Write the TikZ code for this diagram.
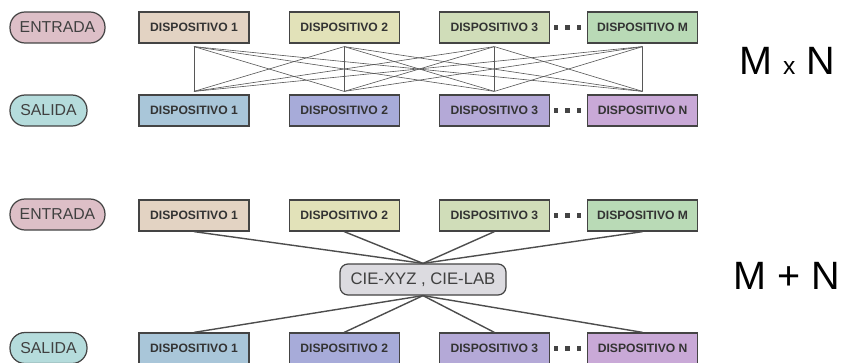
\documentclass[tikz,border=0pt]{standalone}
\usepackage{fontspec}
\setmainfont{Liberation Sans}
\usetikzlibrary{positioning,calc}
\definecolor{edge}{HTML}{444444}
\definecolor{inpill}{HTML}{DDBFC7}
\definecolor{outpill}{HTML}{B5DCDC}
\definecolor{inA}{HTML}{E3D3C3}
\definecolor{inB}{HTML}{E2E2B9}
\definecolor{inC}{HTML}{D0DDB9}
\definecolor{inD}{HTML}{B9DAB6}
\definecolor{outA}{HTML}{A9C6D9}
\definecolor{outB}{HTML}{A7ABD9}
\definecolor{outC}{HTML}{B4A9D7}
\definecolor{outD}{HTML}{C9A9D7}
\definecolor{hubgray}{HTML}{DCDBE0}
\newcommand{\disp}[1]{DISPOSITIVO #1}
\newcommand{\smallx}{{\fontsize{14}{14}\selectfont x}}

\begin{document}
\begin{tikzpicture}[x=0.02cm,y=-0.02cm,node distance=0.78cm and 0.78cm,
    pill/.style={draw=edge,line width=0.7pt,rounded corners=0.3cm,minimum height=0.62cm,inner sep=0pt,font=\fontsize{9}{10}\selectfont,text=black!75},
    dev/.style={draw=edge,line width=0.7pt,minimum width=2.2cm,minimum height=0.62cm,inner sep=0pt,font=\bfseries\fontsize{6.9}{7.5}\selectfont,text=black!80},
    hub/.style={draw=edge,line width=0.7pt,rounded corners=0.16cm,fill=hubgray,minimum width=3.32cm,minimum height=0.62cm,inner sep=0pt,font=\fontsize{9.5}{10}\selectfont,text=black!75},
    dotsq/.style={fill=edge,minimum size=0.09cm,inner sep=0pt},
    big/.style={font=\fontsize{22.5}{24}\selectfont},
    web/.style={draw=edge!90,line width=0.35pt},
    spoke/.style={draw=edge!95,line width=0.8pt}]
  \useasboundingbox (0,0) rectangle (848,362);

  % M x N
  \node[pill,fill=inpill,minimum width=1.9cm] (in1) at (57.5,27.5) {ENTRADA};
  \node[dev,fill=inA] (a1) at (194,27.5) {\disp{1}};
  \node[dev,fill=inB,right=of a1] (a2) {\disp{2}};
  \node[dev,fill=inC,right=of a2] (a3) {\disp{3}};
  \node[dev,fill=inD,right=0.74cm of a3] (a4) {\disp{M}};
  \node[pill,fill=outpill,minimum width=1.54cm] (out1) at (48.5,110.5) {SALIDA};
  \node[dev,fill=outA] (s1) at (194,110.5) {\disp{1}};
  \node[dev,fill=outB,right=of s1] (s2) {\disp{2}};
  \node[dev,fill=outC,right=of s2] (s3) {\disp{3}};
  \node[dev,fill=outD,right=0.74cm of s3] (s4) {\disp{N}};
  \foreach \i in {1,2,3}{
    \node[dotsq] (qa\i) at ($(a3.east)+(-5.5+11.5*\i,0)$) {};
    \node[dotsq] (qs\i) at ($(s3.east)+(-5.5+11.5*\i,0)$) {};
  }
  \foreach \i in {1,...,4}{
    \coordinate (t\i) at ($(a\i.south)+(0,3)$);
    \coordinate (b\i) at ($(s\i.north)+(0,-3)$);
  }
  \foreach \i in {1,...,4}
    \foreach \j in {1,...,4}
      \draw[web] (t\i) -- (b\j);
  \node[big] (mxn) at (787,61) {M \smallx{} N};

  % M + N
  \node[pill,fill=inpill,minimum width=1.9cm] (in2) at (57.5,214.5) {ENTRADA};
  \node[dev,fill=inA] (e1) at (194,215.5) {\disp{1}};
  \node[dev,fill=inB,right=of e1] (e2) {\disp{2}};
  \node[dev,fill=inC,right=of e2] (e3) {\disp{3}};
  \node[dev,fill=inD,right=0.74cm of e3] (e4) {\disp{M}};
  \node[hub] (cie) at (423,279.5) {CIE-XYZ , CIE-LAB};
  \node[pill,fill=outpill,minimum width=1.54cm] (out2) at (48.5,348) {SALIDA};
  \node[dev,fill=outA] (o1) at (194,348.5) {\disp{1}};
  \node[dev,fill=outB,right=of o1] (o2) {\disp{2}};
  \node[dev,fill=outC,right=of o2] (o3) {\disp{3}};
  \node[dev,fill=outD,right=0.74cm of o3] (o4) {\disp{N}};
  \foreach \i in {1,2,3}{
    \node[dotsq] (qe\i) at ($(e3.east)+(-5.5+11.5*\i,0)$) {};
    \node[dotsq] (qo\i) at ($(o3.east)+(-5.5+11.5*\i,0)$) {};
  }
  \foreach \i in {1,...,4}{
    \draw[spoke] (e\i.south) -- (cie.north);
    \draw[spoke] (cie.south) -- (o\i.north);
  }
  \node[big] (mpn) at (787,276) {M + N};
\end{tikzpicture}
\end{document}
